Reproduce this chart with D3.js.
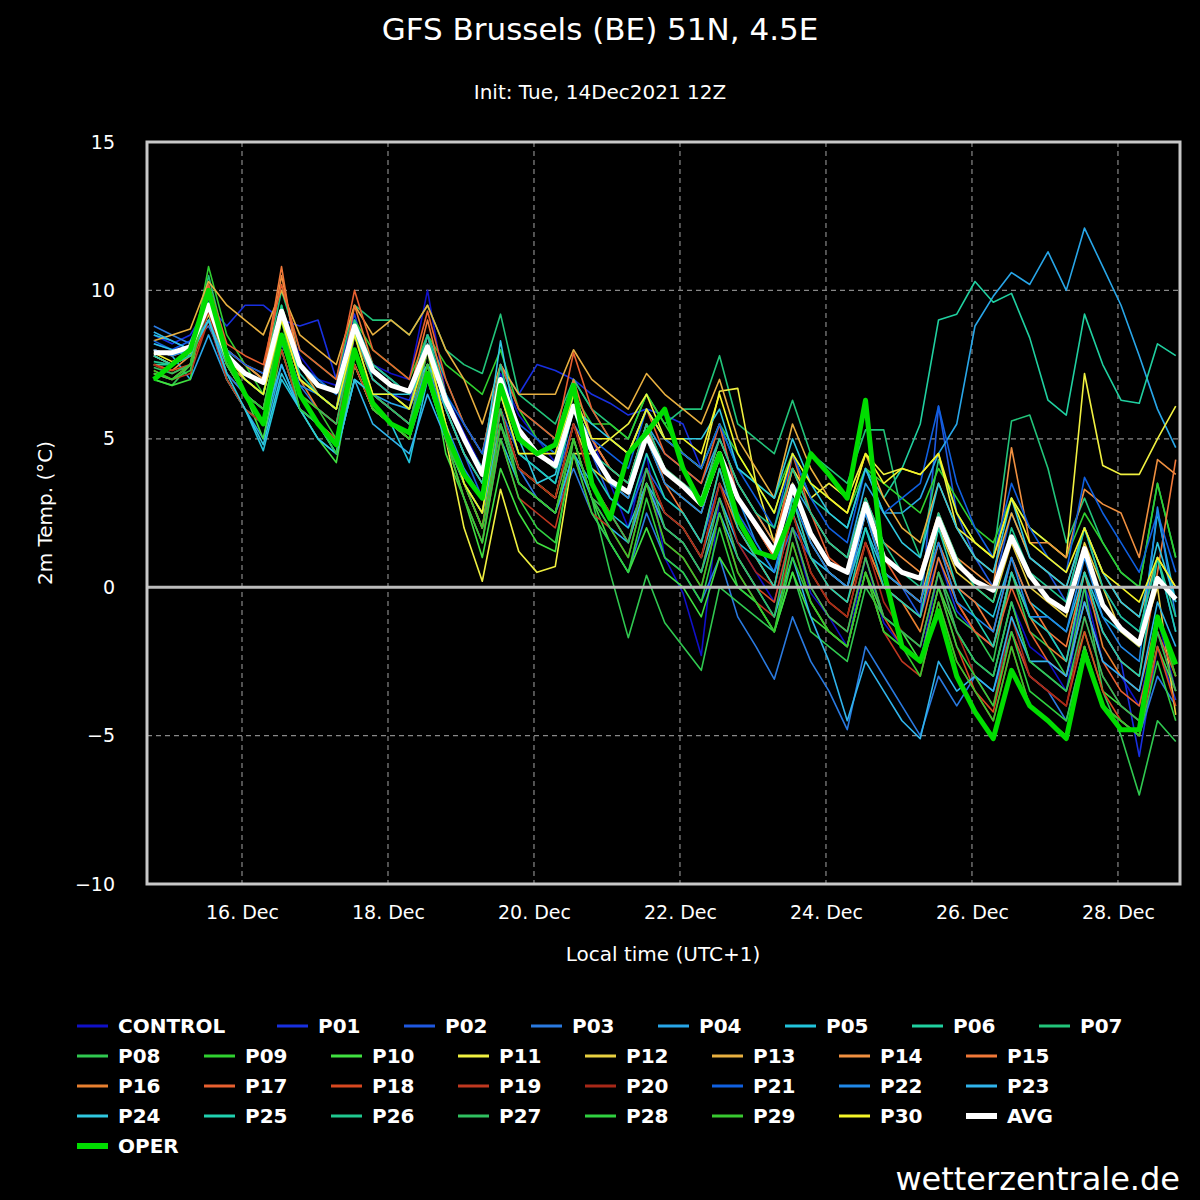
<!DOCTYPE html>
<html><head><meta charset="utf-8">
<script src="https://cdn.jsdelivr.net/npm/d3@7"></script>
<style>body{margin:0;background:#000}</style>
</head><body><div id="chart"></div>
<script>
// 6-hourly steps from Tue 14 Dec 19:00 local to 28 Dec 19:00 local
var startTime = new Date(2021, 11, 14, 19);
var yTicks = [-10, -5, 0, 5, 10, 15];
var xTickDays = [16, 18, 20, 22, 24, 26, 28];

var names = ["CONTROL","P01","P02","P03","P04","P05","P06","P07","P08","P09","P10","P11","P12","P13","P14","P15","P16","P17","P18","P19","P20","P21","P22","P23","P24","P25","P26","P27","P28","P29","P30"];
var colors = ["#1010c8","#1830e0","#1f58e0","#2a7ae0","#28a6e8","#22c4dc","#20d0a0","#22c47a","#30c850","#30d030","#40e040","#f0f040","#e8d040","#e8b040","#f09040","#f07838","#e88030","#e86030","#d84820","#c03820","#a82818","#1060e0","#2088e8","#30b4ec","#30c8e0","#20d0b0","#20c890","#30c060","#30d040","#38c830","#f4f428"];
var members = [
"8.2 | 8.0 8.3 9.8 8.0 | 7.5 7.0 9.4 7.8 | 7.0 6.8 9.0 7.5 | 7.2 7.0 10.0 6.5 | 5.2 4.0 7.2 5.8 | 5.0 4.2 6.5 5.0 | 3.5 2.0 4.5 1.0 | -0.2 -2.3 3.0 1.5 | 0.5 -0.5 2.0 -0.2 | -1.0 -2.0 1.0 -1.2 | -2.0 -2.5 0.5 -1.5 | -2.5 -3.0 -0.5 -2.0 | -2.5 -3.5 0.0 -2.5 | -3.0 -4.0 -1.0 -3.5",
"8.5 | 8.2 8.5 9.5 8.8 | 9.5 9.5 9.0 8.8 | 9.0 7.0 9.2 7.0 | 6.5 6.3 8.0 6.5 | 5.0 4.0 7.5 6.5 | 7.5 7.3 7.0 6.5 | 6.2 5.8 6.0 5.8 | 5.5 4.0 5.5 3.0 | 2.0 1.0 3.5 1.5 | 0.5 0.0 2.0 0.0 | -0.5 -1.0 1.0 -0.8 | -1.5 -2.0 0.5 -1.0 | -1.5 -2.5 0.0 -1.5 | -2.5 -5.7 -2.0 -3.8",
"7.8 | 7.5 8.0 9.0 7.0 | 6.0 5.5 8.0 6.0 | 5.5 5.0 8.5 7.0 | 6.5 6.0 8.5 6.0 | 4.5 3.0 6.0 4.5 | 4.0 3.5 5.5 4.5 | 3.0 2.5 4.0 3.0 | 2.5 1.5 3.5 2.5 | 1.5 0.5 2.0 1.0 | 0.5 0.0 2.5 0.5 | 0.0 -1.0 6.1 2.5 | 1.0 0.0 2.5 1.0 | 0.5 -0.5 2.0 0.0 | -1.0 -1.5 1.0 -1.5",
"8.8 | 8.5 8.2 8.8 7.5 | 6.5 6.0 8.2 6.8 | 6.0 5.5 7.5 6.0 | 5.5 5.0 7.0 5.5 | 3.5 2.5 6.0 4.0 | 3.0 2.5 4.0 2.5 | 1.5 0.5 2.5 1.0 | 0.5 -0.5 1.0 -1.0 | -2.0 -3.1 -1.0 -2.5 | -3.5 -4.8 -2.0 -3.0 | -4.0 -5.0 -3.0 -4.0 | -3.0 -3.5 -1.5 -3.0 | -3.5 -4.5 -2.0 -4.0 | -4.5 -5.0 -3.0 -4.0",
"8.0 | 7.8 7.0 8.5 7.0 | 6.0 5.0 7.5 6.0 | 5.0 4.5 7.0 6.5 | 6.2 6.0 7.5 6.0 | 4.5 3.5 7.0 5.0 | 4.5 4.0 6.0 5.0 | 4.0 3.5 5.5 4.5 | 4.0 3.5 5.0 3.5 | 2.5 1.5 3.5 2.5 | 1.5 1.0 3.5 2.5 | 2.5 3.0 4.5 5.5 | 8.8 9.8 10.6 10.2 | 11.3 10.0 12.1 10.8 | 9.5 7.8 6.0 4.7",
"8.5 | 8.3 8.0 9.2 7.0 | 6.0 4.6 7.0 6.0 | 5.5 4.5 7.5 6.0 | 5.5 4.2 7.0 5.0 | 3.5 2.0 5.0 3.5 | 3.0 2.5 4.5 3.5 | 2.5 2.0 3.5 2.5 | 2.0 1.0 3.0 1.5 | 1.0 0.5 2.5 1.0 | 0.5 0.0 2.0 0.5 | 0.0 -0.5 1.5 0.0 | -0.5 -1.0 1.0 -0.5 | -1.0 -1.5 0.5 -1.0 | -1.5 -2.0 2.5 -0.5",
"7.5 | 7.5 7.8 9.8 7.5 | 7.0 6.5 9.0 7.5 | 7.0 6.5 8.8 7.5 | 7.0 6.5 8.5 7.0 | 5.5 4.5 7.5 6.0 | 5.5 5.0 7.0 6.0 | 5.0 4.5 6.0 5.0 | 4.5 4.0 5.5 4.0 | 3.5 2.5 4.5 3.0 | 2.5 2.0 4.0 3.0 | 4.0 5.5 9.0 9.2 | 10.3 9.6 9.9 8.4 | 6.3 5.8 9.2 7.5 | 6.3 6.2 8.2 7.8",
"7.2 | 7.0 7.5 10.5 8.0 | 7.5 7.0 10.0 8.0 | 7.5 7.0 9.5 9.0 | 9.0 8.5 9.5 8.0 | 7.5 7.2 9.2 6.5 | 6.0 5.5 7.0 6.0 | 5.5 5.0 6.5 5.5 | 6.0 6.0 7.8 5.5 | 5.0 4.5 6.3 4.5 | 4.0 3.5 5.3 5.3 | 2.5 1.0 4.3 2.5 | 1.5 1.0 5.6 5.8 | 4.0 1.5 3.0 1.5 | 0.5 0.0 3.5 1.0",
"7.0 | 6.8 7.5 9.5 7.0 | 6.0 5.5 8.0 6.0 | 5.5 5.0 7.5 6.0 | 5.5 5.0 7.0 5.0 | 3.0 1.5 5.5 4.0 | 3.5 3.0 5.0 3.0 | 0.5 -1.7 0.4 -1.2 | -2.0 -2.8 0.0 -0.5 | -1.0 -1.5 0.5 -1.5 | -2.0 -2.5 0.0 -1.0 | -1.5 -2.0 0.5 -1.0 | -1.5 -2.5 0.5 -1.5 | -2.0 -3.0 0.0 -3.5 | -5.0 -7.0 -4.5 -5.2",
"7.5 | 7.2 7.5 10.8 8.5 | 7.5 6.5 9.5 7.5 | 6.5 6.0 9.0 8.0 | 7.5 7.0 8.5 7.5 | 7.0 6.5 8.0 6.0 | 5.0 4.5 6.5 5.5 | 5.5 5.0 6.5 5.5 | 4.5 4.0 5.5 4.5 | 3.5 3.0 4.5 3.5 | 3.0 2.5 4.0 3.5 | 3.0 2.5 4.0 3.0 | 2.0 1.5 3.0 2.0 | 1.5 1.0 2.5 1.5 | 0.5 0.0 3.5 1.0",
"7.0 | 6.8 7.0 10.2 7.5 | 6.5 5.0 8.0 6.0 | 5.0 4.2 7.5 6.0 | 5.5 5.0 8.0 4.5 | 3.0 1.0 4.0 2.5 | 1.5 1.2 5.0 3.0 | 1.5 0.5 2.0 0.5 | 0.0 -1.0 1.0 0.0 | -0.5 -1.5 0.5 -1.0 | -1.5 -2.0 0.5 -1.0 | -1.5 -2.5 0.0 -1.5 | -2.5 -3.0 -0.5 -2.5 | -3.0 -3.5 -1.5 -3.5 | -4.0 -4.5 -2.0 -3.5",
"7.8 | 7.5 7.8 9.2 7.5 | 6.5 6.0 8.5 6.5 | 5.5 5.0 7.5 6.0 | 5.5 5.0 7.5 5.0 | 2.0 0.2 3.3 1.2 | 0.5 0.7 4.5 4.5 | 5.0 5.5 6.5 5.0 | 4.5 4.0 6.6 6.7 | 3.5 1.5 4.0 3.0 | 3.5 3.0 4.5 3.8 | 4.0 3.8 4.5 2.0 | 1.5 1.0 3.0 2.0 | 1.5 1.0 7.2 4.1 | 3.8 3.8 5.0 6.1",
"8.0 | 7.8 8.0 9.5 8.0 | 7.5 7.0 9.0 7.0 | 6.5 6.0 8.0 6.5 | 6.0 5.5 7.5 5.5 | 3.5 2.0 6.0 4.0 | 3.5 3.0 5.5 4.0 | 3.5 3.0 5.0 3.5 | 3.0 2.5 4.5 3.0 | 2.0 1.0 3.5 1.5 | 0.5 0.0 2.5 0.5 | 0.0 -0.5 2.0 0.5 | 0.0 -0.5 1.5 0.0 | -0.5 -1.0 1.5 0.0 | -1.5 -2.0 0.0 -4.3",
"8.3 | 8.5 8.7 10.3 9.5 | 9.0 8.5 10.0 8.5 | 8.0 7.5 9.5 8.5 | 9.0 8.5 9.5 8.0 | 7.0 5.5 7.5 6.5 | 6.5 6.5 8.0 7.0 | 6.5 6.0 7.2 6.5 | 6.0 5.5 7.0 5.0 | 4.0 3.0 5.5 4.0 | 3.0 2.5 4.5 3.0 | 2.0 1.5 3.5 2.0 | 1.0 0.5 2.5 1.0 | 0.5 0.0 2.0 0.5 | -0.5 -1.0 1.0 0.0",
"7.5 | 7.3 7.8 10.0 8.0 | 7.5 7.0 10.5 7.5 | 6.5 6.0 8.5 7.0 | 6.5 6.0 8.5 6.0 | 4.5 3.5 6.5 5.0 | 4.5 4.0 6.5 5.0 | 4.0 3.5 5.5 4.0 | 3.5 3.0 5.0 3.5 | 2.5 1.5 4.0 2.5 | 1.5 1.0 3.0 1.5 | 1.0 0.5 2.5 1.0 | 0.5 0.0 4.7 1.5 | 1.5 1.0 3.3 2.8 | 2.5 1.0 4.3 3.8",
"7.2 | 7.0 7.5 9.8 8.0 | 7.5 7.2 10.8 7.0 | 6.5 6.0 9.5 7.5 | 7.0 6.5 9.0 6.5 | 5.0 4.0 6.5 5.0 | 4.5 4.0 7.0 5.0 | 4.0 3.5 5.5 3.5 | 2.5 1.5 4.0 2.0 | 1.0 0.0 3.0 1.0 | 0.0 -0.5 1.5 0.0 | -0.5 -1.0 1.5 0.0 | -0.5 -1.5 1.0 -0.5 | -1.5 -2.0 0.5 -1.5 | -2.5 -3.0 0.5 4.3",
"7.8 | 7.5 8.0 9.5 7.5 | 7.0 6.5 9.0 7.0 | 6.0 5.5 8.0 6.5 | 6.0 5.5 8.0 5.5 | 3.5 2.5 6.0 4.0 | 3.5 3.0 5.5 3.5 | 2.5 1.5 4.0 2.5 | 2.0 1.0 3.5 2.0 | 1.0 0.0 2.5 0.5 | -0.5 -1.0 1.5 0.0 | -0.5 -1.5 1.0 -0.5 | -1.5 -2.0 0.5 -1.0 | -2.0 -2.5 0.5 -2.0 | -3.0 -3.5 -1.0 -3.0",
"8.0 | 7.8 8.0 10.2 8.2 | 7.8 7.5 10.2 8.0 | 7.5 7.0 10.0 8.0 | 7.5 7.0 9.3 7.0 | 5.5 4.5 7.5 6.0 | 5.5 5.0 7.9 6.0 | 5.0 4.5 6.0 4.5 | 4.0 3.5 5.5 3.0 | 2.0 1.0 4.5 2.5 | 1.0 0.5 3.0 1.0 | 0.0 -0.5 1.5 -0.5 | -1.5 -2.0 0.0 -1.5 | -2.5 -3.0 -0.5 -2.5 | -3.5 -4.0 -1.5 -3.0",
"7.5 | 7.3 7.5 9.0 7.2 | 6.5 6.0 8.5 6.5 | 6.0 5.5 8.5 7.0 | 6.5 6.0 8.0 5.5 | 3.5 2.0 5.5 3.5 | 3.0 2.5 5.0 3.0 | 2.5 1.5 3.5 2.0 | 1.5 0.5 3.0 1.0 | 0.0 -0.5 2.0 0.0 | -1.0 -1.5 1.0 -1.0 | -2.0 -2.5 0.0 -2.0 | -3.5 -4.2 -1.5 -3.0 | -3.5 -4.0 -1.5 -3.5 | -4.5 -5.0 -2.0 -4.0",
"7.3 | 7.0 7.2 9.0 7.0 | 6.0 5.5 8.0 6.0 | 5.5 5.0 7.5 6.0 | 5.5 5.0 7.5 5.0 | 3.0 1.5 5.0 3.0 | 2.5 2.0 4.5 2.5 | 2.0 1.0 3.5 1.5 | 1.0 0.0 2.5 0.5 | -0.5 -1.0 1.5 -0.5 | -1.5 -2.0 0.5 -1.5 | -2.5 -3.0 -0.5 -2.5 | -3.5 -4.5 -2.0 -4.0 | -4.5 -5.0 -2.0 -4.0 | -4.5 -5.0 -1.5 -3.5",
"7.5 | 7.2 7.5 9.3 7.2 | 6.5 6.0 8.5 6.5 | 6.0 5.5 8.0 6.5 | 6.0 5.5 8.0 5.5 | 3.5 2.5 6.0 4.0 | 3.5 3.0 5.5 3.5 | 2.5 1.5 4.0 2.5 | 2.0 1.0 3.5 1.5 | 0.5 0.0 2.5 0.5 | -0.5 -1.0 1.5 -0.5 | -1.5 -2.0 0.5 -1.5 | -3.0 -4.0 -1.0 -3.0 | -3.5 -4.0 -1.0 -3.0 | -4.0 -4.5 -1.0 -3.0",
"8.3 | 8.0 8.3 9.5 8.0 | 7.5 7.2 9.2 7.5 | 7.0 6.5 8.5 7.5 | 7.0 6.5 8.5 6.5 | 5.5 4.5 7.0 5.5 | 5.0 4.5 6.5 5.0 | 4.5 4.0 6.0 5.0 | 4.5 4.0 5.5 4.0 | 3.0 2.0 4.5 3.0 | 2.0 1.5 4.0 2.5 | 3.0 3.5 6.1 3.5 | 2.0 1.0 3.5 2.0 | 1.0 0.5 3.7 2.5 | 1.5 0.5 2.5 0.5",
"8.0 | 7.8 8.0 9.0 7.2 | 6.5 6.0 8.5 6.8 | 6.5 6.0 8.0 6.5 | 6.0 5.5 7.5 5.5 | 4.0 3.0 6.5 4.5 | 4.0 3.5 6.0 4.5 | 3.5 3.0 5.0 3.5 | 3.0 2.5 4.5 3.0 | 1.5 0.5 3.0 1.5 | 0.5 0.0 2.5 0.5 | 0.0 -0.5 1.5 -0.5 | -1.0 -1.5 1.0 -1.0 | -1.0 -1.5 1.0 -1.0 | -2.0 -2.5 2.7 -1.0",
"8.6 | 8.3 8.0 9.0 7.5 | 6.5 5.5 7.5 6.0 | 5.5 4.5 7.0 5.5 | 5.0 4.5 6.5 5.0 | 3.5 2.5 5.5 3.5 | 3.0 2.5 4.5 3.0 | 2.0 1.5 3.5 2.0 | 1.5 0.5 2.5 1.0 | 0.0 -1.0 1.0 -1.0 | -2.5 -4.5 -2.5 -3.5 | -4.5 -5.1 -2.5 -3.5 | -3.0 -3.5 -1.0 -2.5 | -2.5 -3.0 -0.5 -2.5 | -3.0 -3.5 -0.5 -2.0",
"8.2 | 8.0 7.8 9.0 7.2 | 6.0 4.8 7.2 6.0 | 5.0 4.5 7.0 6.5 | 6.5 6.5 7.5 6.5 | 5.0 4.0 8.3 5.0 | 3.5 3.8 6.0 5.5 | 5.0 4.5 6.0 5.0 | 5.0 5.0 6.0 4.0 | 3.5 3.0 5.0 3.5 | 2.5 2.0 4.0 2.5 | 1.5 1.0 3.5 2.0 | 1.0 0.5 3.0 1.0 | 0.5 0.0 2.0 0.5 | -0.5 -1.0 1.5 -0.5",
"7.8 | 7.5 7.8 9.6 7.8 | 7.0 6.5 9.2 7.2 | 6.5 6.0 8.6 7.0 | 6.5 6.0 8.2 6.0 | 4.5 3.5 6.5 4.5 | 4.0 3.5 6.0 4.0 | 3.0 2.5 4.5 3.0 | 2.5 1.5 4.0 2.0 | 1.0 0.0 3.0 1.0 | 0.0 -0.5 2.0 0.0 | -0.5 -1.0 2.0 0.0 | -1.0 -2.0 0.5 -1.0 | -1.5 -2.5 0.5 -1.5 | -2.5 -3.0 1.0 -1.5",
"7.6 | 7.5 7.8 9.8 8.0 | 7.0 6.5 9.5 7.0 | 6.5 6.0 9.0 7.5 | 7.0 6.5 8.5 6.5 | 5.0 4.0 7.5 5.0 | 4.5 4.0 6.5 4.5 | 4.0 3.5 5.5 4.0 | 3.5 3.0 5.0 3.5 | 2.5 2.0 4.0 2.5 | 1.5 1.0 3.0 1.5 | 0.5 0.0 2.5 1.0 | 0.0 -0.5 2.0 0.5 | 0.0 -0.5 2.0 0.0 | -1.0 -1.5 1.0 -1.0",
"7.4 | 7.2 7.5 9.5 7.5 | 6.5 6.0 9.0 6.5 | 6.0 5.5 8.5 6.5 | 6.0 5.5 8.0 5.5 | 3.5 2.5 6.0 3.5 | 3.0 2.5 5.0 3.0 | 2.5 1.5 4.0 2.0 | 1.5 0.5 3.0 1.0 | 0.0 -1.0 2.0 0.0 | -1.0 -1.5 1.0 -1.0 | -1.5 -2.0 0.5 -1.5 | -2.5 -3.0 -0.5 -2.5 | -3.0 -3.5 -1.0 -3.0 | -4.0 -4.5 -1.5 -3.5",
"7.2 | 7.0 7.3 10.0 7.5 | 6.5 5.5 8.5 6.0 | 5.5 4.5 8.0 6.0 | 5.5 5.0 7.5 5.0 | 3.0 1.5 5.0 3.0 | 2.0 1.5 4.5 2.5 | 1.5 0.5 3.0 1.0 | 0.5 -0.5 2.0 0.0 | -0.5 -1.5 1.0 -0.5 | -1.5 -2.0 0.5 -1.5 | -2.0 -2.5 0.0 -2.0 | -3.0 -4.0 -1.5 -3.5 | -4.0 -4.5 -2.0 -4.0 | -4.5 -5.0 -2.5 -4.5",
"7.3 | 7.0 7.5 9.8 7.5 | 6.5 6.0 9.0 6.5 | 6.0 5.0 8.0 6.0 | 5.5 5.0 7.5 5.0 | 3.5 2.0 5.5 3.5 | 3.0 2.5 5.0 3.0 | 2.0 1.0 3.5 1.5 | 1.0 0.0 2.5 0.5 | -0.5 -1.5 1.5 -0.5 | -1.5 -2.0 0.5 -1.5 | -2.0 -3.0 -0.5 -2.5 | -3.5 -4.5 -2.0 -4.0 | -4.5 -5.0 -2.0 -4.0 | -4.5 -5.0 -1.0 -3.0",
"7.9 | 7.6 7.9 9.5 7.8 | 7.0 6.5 9.0 7.0 | 6.5 6.0 8.5 6.5 | 6.5 6.0 8.0 5.5 | 3.5 2.5 6.5 4.5 | 4.5 4.5 6.5 5.0 | 5.0 4.5 6.0 5.0 | 5.0 4.5 6.5 4.5 | 3.5 2.5 4.5 3.5 | 3.0 2.5 4.5 3.5 | 4.0 3.8 4.5 2.5 | 1.5 1.0 3.0 1.5 | 1.0 0.5 2.0 0.5 | 0.0 -0.5 1.0 0.0"
];
var avg = "7.9 | 7.9 8.1 9.5 7.8 | 7.2 6.9 9.3 7.5 | 6.8 6.6 8.8 7.3 | 6.8 6.6 8.1 6.3 | 5.0 3.8 7.0 5.3 | 4.5 4.1 6.1 4.6 | 3.6 3.2 5.1 3.9 | 3.4 2.8 4.5 3.0 | 2.1 1.2 3.4 1.8 | 0.8 0.5 2.8 1.0 | 0.5 0.3 2.3 0.8 | 0.2 -0.1 1.7 0.4 | -0.4 -0.8 1.3 -0.6 | -1.4 -1.9 0.3 -0.4";
var oper = "7.0 | 7.5 8.0 10.0 7.8 | 6.5 5.5 8.5 6.5 | 5.5 4.8 8.0 6.2 | 5.5 5.2 7.2 5.2 | 3.8 3.0 6.8 5.0 | 4.5 4.8 6.8 3.5 | 2.3 4.5 5.2 6.0 | 4.0 2.8 4.5 2.3 | 1.2 1.0 2.5 4.5 | 3.8 3.0 6.3 0.5 | -2.0 -2.5 -0.8 -3.0 | -4.2 -5.1 -2.8 -4.0 | -4.5 -5.1 -2.2 -4.0 | -4.8 -4.8 -1.0 -2.6";

function parse(s) { return s.split(/[\s|]+/).filter(function(t){return t.length;}).map(Number); }
function timeAt(i) { return new Date(startTime.getTime() + i * 6 * 3600 * 1000); }

var series = names.map(function(n, i) { return {name: n, color: colors[i], width: 1.6, values: parse(members[i])}; });
series.push({name: "AVG", color: "#ffffff", width: 5, values: parse(avg)});
series.push({name: "OPER", color: "#00dd00", width: 5, values: parse(oper)});

var W = 1200, H = 1200;
var mLeft = 147, mRight = 1180, mTop = 142, mBottom = 884;
var svg = d3.select("#chart").append("svg").attr("width", W).attr("height", H)
  .style("background", "#000").style("font-family", "'DejaVu Sans', sans-serif");

var x = d3.scaleTime().domain([new Date(2021, 11, 14, 16, 46), new Date(2021, 11, 28, 20, 24)]).range([mLeft, mRight]);
var y = d3.scaleLinear().domain([-10, 15]).range([mBottom, mTop]);

// grid
svg.append("g").selectAll("line").data([-5, 5, 10]).enter().append("line")
  .attr("x1", mLeft).attr("x2", mRight).attr("y1", y).attr("y2", y)
  .attr("stroke", "#888").attr("stroke-dasharray", "5,4").attr("stroke-width", 1.2);
svg.append("g").selectAll("line").data(xTickDays).enter().append("line")
  .attr("x1", function(d){return x(new Date(2021, 11, d));}).attr("x2", function(d){return x(new Date(2021, 11, d));})
  .attr("y1", mTop).attr("y2", mBottom)
  .attr("stroke", "#888").attr("stroke-dasharray", "5,4").attr("stroke-width", 1.2);

// lines
var line = d3.line().x(function(d, i){return x(timeAt(i));}).y(function(d){return y(d);});
svg.append("g").selectAll("path").data(series).enter().append("path")
  .attr("d", function(s){return line(s.values);})
  .attr("fill", "none").attr("stroke", function(s){return s.color;})
  .attr("stroke-width", function(s){return s.width;}).attr("stroke-linejoin", "round");

// zero line and frame
svg.append("line").attr("x1", mLeft).attr("x2", mRight).attr("y1", y(0)).attr("y2", y(0))
  .attr("stroke", "#bbb").attr("stroke-width", 3);
svg.append("rect").attr("x", mLeft).attr("y", mTop).attr("width", mRight - mLeft).attr("height", mBottom - mTop)
  .attr("fill", "none").attr("stroke", "#c8c8c8").attr("stroke-width", 3);

// axes
var yAxis = svg.append("g").attr("transform", "translate(" + mLeft + ",0)")
  .call(d3.axisLeft(y).tickValues(yTicks).tickFormat(function(d){return d < 0 ? "\u2212" + (-d) : d;}).tickSize(0).tickPadding(32));
var xAxis = svg.append("g").attr("transform", "translate(0," + mBottom + ")")
  .call(d3.axisBottom(x).tickValues(xTickDays.map(function(d){return new Date(2021, 11, d);})).tickFormat(function(d){return d.getDate() + ". Dec";}).tickSize(0).tickPadding(22));
[yAxis, xAxis].forEach(function(a){
  a.select(".domain").remove();
  a.selectAll("text").attr("fill", "#fff").style("font-size", "19px").style("font-family", "'DejaVu Sans', sans-serif");
});

function txt(t, px, py, size, anchor, weight) {
  return svg.append("text").attr("x", px).attr("y", py).attr("fill", "#fff").attr("text-anchor", anchor || "middle")
    .style("font-size", size + "px").style("font-weight", weight || "normal").text(t);
}
txt("GFS Brussels (BE) 51N, 4.5E", 600, 40, 31);
txt("Init: Tue, 14Dec2021 12Z", 600, 99, 20);
txt("Local time (UTC+1)", 663, 961, 20);
txt("2m Temp. (\u00b0C)", 0, 0, 20).attr("transform", "translate(52,513) rotate(-90)");
txt("wetterzentrale.de", 1180, 1190, 32, "end");

// legend: CONTROL takes a wider slot in the first row
function legX(i) { return i < 8 ? (i === 0 ? 77 : 277 + (i - 1) * 127) : 77 + ((i - 8) % 8) * 127; }
function legY(i) { return i < 8 ? 1026 : 1056 + Math.floor((i - 8) / 8) * 30; }
var leg = svg.append("g").selectAll("g").data(series).enter().append("g")
  .attr("transform", function(s, i){return "translate(" + legX(i) + "," + legY(i) + ")";});
leg.append("line").attr("x1", 0).attr("x2", 31).attr("y1", 0).attr("y2", 0)
  .attr("stroke", function(s){return s.color;}).attr("stroke-width", function(s){return s.width > 2 ? 6 : 3;});
leg.append("text").attr("x", 41).attr("y", 7).attr("fill", "#fff").style("font-size", "20px").style("font-weight", "bold")
  .text(function(s){return s.name;});
</script>
</body></html>
